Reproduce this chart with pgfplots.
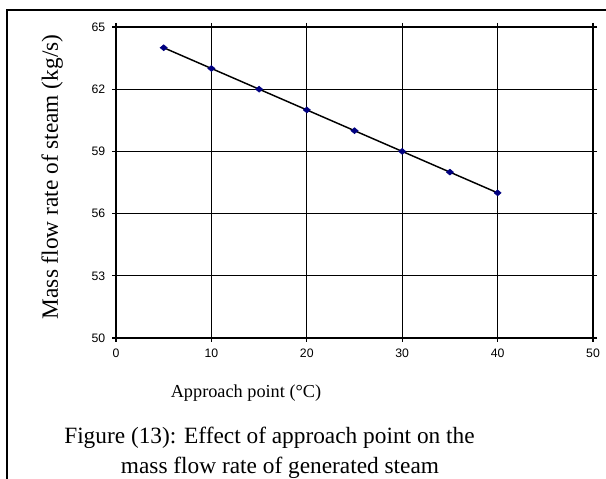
\documentclass[border=0pt]{standalone}
\usepackage{fontspec}
\setmainfont{Liberation Serif}
\newfontfamily\tickfont{Liberation Sans}
\usepackage{pgfplots}
\pgfplotsset{compat=1.18}

\begin{document}
\begin{tikzpicture}
% page = 606 x 478 px, 1 px = 0.75 pt
\clip (0pt,0pt) rectangle (454.5pt,358.5pt);
\useasboundingbox (0pt,0pt) rectangle (454.5pt,358.5pt);
% outer frame (right and bottom edges fall outside the picture)
\draw[line width=2.2pt] (5.25pt,-10pt) -- (5.25pt,351pt) -- (470pt,351pt);

\begin{axis}[
  at={(87pt,105pt)}, anchor=south west,
  width=357.75pt, height=233.25pt, scale only axis,
  xmin=0, xmax=50, ymin=50, ymax=65,
  xtick={0,10,...,50}, ytick={50,53,...,65},
  grid=major,
  major grid style={black, line width=0.6pt},
  axis line style={black, line width=0.8pt},
  tick style={black, line width=0.8pt},
  major tick length=3pt,
  xtick align=outside, ytick align=outside,
  tick label style={font=\tickfont\fontsize{9.2}{10}\selectfont},
  /pgf/number format/assume math mode=true,
  xticklabel style={yshift=-1.5pt},
  yticklabel style={xshift=-1.5pt},
  xlabel={Approach point (\textdegree C)},
  xlabel style={font=\fontsize{13.7}{16}\selectfont, anchor=base,
    at={(axis description cs:0.2725,-0.19)}},
  ylabel={Mass flow rate of steam (kg/s)},
  ylabel style={font=\fontsize{17.5}{20}\selectfont, anchor=center,
    at={(axis description cs:-0.134,0.518)}},
  clip=false,
]
\addplot[black, line width=1.1pt, mark=diamond*,
  mark size=2.25pt,
  mark options={fill={rgb,255:red,0;green,0;blue,128}, draw={rgb,255:red,0;green,0;blue,128}, xscale=1.6, line width=0.4pt}]
  coordinates {
    (5,64) (10,63) (15,62) (20,61) (25,60) (30,59) (35,58) (40,57)
  };
\draw[black, line width=1.6pt] (rel axis cs:0,1) -- (rel axis cs:0,0) -- (rel axis cs:1,0);
\end{axis}

\node[anchor=base, font=\fontsize{17.5}{20}\selectfont] at (202.1pt,26.25pt)
  {Figure (13): Effect of approach point on the};
\node[anchor=base, font=\fontsize{17.5}{20}\selectfont] at (210pt,3.75pt)
  {mass flow rate of generated steam};
\end{tikzpicture}
\end{document}
